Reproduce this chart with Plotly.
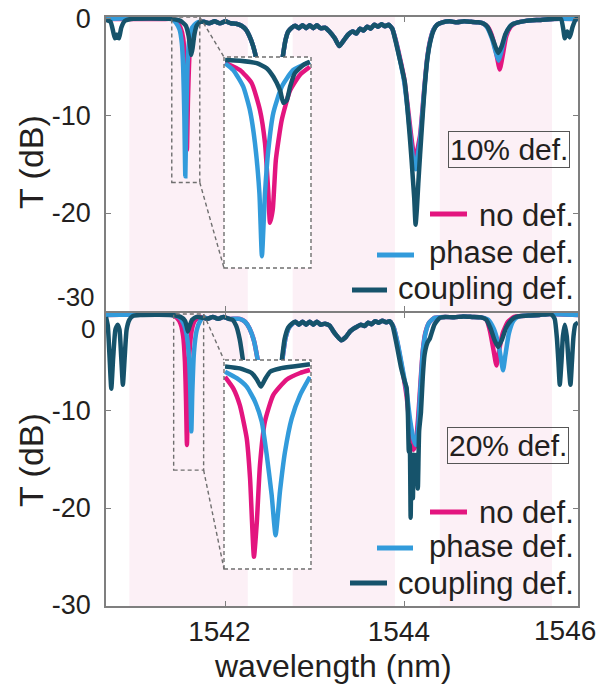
import plotly.graph_objects as go

W, H = 611, 690
FONT = "Liberation Sans, Arial, sans-serif"
TXT = "#231f20"
AX = "#7f7f7f"
C_NO = "#e3157f"
C_PH = "#329bdb"
C_CP = "#16536b"
BAND = "#fcf0f6"

# ---------------- data (wavelength nm, T dB) ----------------
wl_range = [1540.67, 1545.93]
top_T_range = [-30.1, 0.2]
bot_T_range = [-30.1, 0.1]
x_tick_vals = [1542, 1544]
y_tick_vals = [-30, -20, -10, 0]
bands = [(1540.93, 1542.25), (1542.75, 1543.89), (1544.39, 1545.64)]
labels = ["no def.", "phase def.", "coupling def."]
panel_labels = ["10% def.", "20% def."]

# ---- 10% defect panel ----
top_wig_a = [(1541.76, -0.3), (1541.82, -0.45), (1541.88, -0.25), (1541.94, -0.45), (1542.00, -0.25), (1542.06, -0.45)]
top_hidden = [(1542.12, -0.5), (1542.18, -0.7), (1542.23, -1.1), (1542.27, -1.8), (1542.31, -2.8), (1542.34, -3.9),
              (1542.38, -6.5), (1542.46, -9.5), (1542.54, -9.5), (1542.61, -6.0), (1542.64, -3.9), (1542.67, -2.2),
              (1542.70, -1.3), (1542.74, -0.9)]
top_wig_b = [(1542.78, -0.7), (1542.82, -0.95), (1542.86, -0.65), (1542.90, -0.95), (1542.94, -0.65), (1542.98, -0.95),
             (1543.02, -0.65), (1543.06, -0.95), (1543.11, -0.9), (1543.16, -1.3), (1543.22, -2.0), (1543.27, -2.8),
             (1543.32, -2.2), (1543.37, -1.6), (1543.42, -1.3), (1543.46, -1.5), (1543.50, -1.0), (1543.54, -1.2),
             (1543.58, -0.8), (1543.62, -1.0), (1543.66, -0.6), (1543.70, -0.8), (1543.74, -0.55), (1543.78, -0.75),
             (1543.82, -0.6), (1543.86, -1.0)]
top_after = [(1544.42, -0.35), (1544.50, -0.25), (1544.58, -0.35), (1544.66, -0.25), (1544.74, -0.3), (1544.82, -0.35),
             (1544.88, -0.5)]
top_tail = [(1545.26, -0.35), (1545.35, -0.2), (1545.50, -0.1), (1545.65, 0.0)]

top_no_left = [(1540.67, 0.0), (1541.30, 0.0), (1541.40, 0.0), (1541.46, -0.3), (1541.50, -0.9), (1541.53, -2.0),
               (1541.55, -4.5), (1541.562, -8.5), (1541.572, -13.5), (1541.583, -8.5), (1541.60, -3.8),
               (1541.625, -1.7), (1541.66, -0.7), (1541.72, -0.3)]
top_no_big = [(1543.90, -2.2), (1543.95, -4.2), (1543.99, -6.0), (1544.03, -8.8), (1544.07, -12.0), (1544.10, -14.0),
              (1544.12, -14.7), (1544.14, -13.5), (1544.17, -12.0), (1544.195, -9.5), (1544.22, -6.8),
              (1544.25, -4.0), (1544.28, -2.3), (1544.32, -1.1), (1544.36, -0.6)]
top_no_d2 = [(1544.93, -0.9), (1544.98, -2.0), (1545.02, -3.6), (1545.058, -5.2), (1545.09, -3.8), (1545.13, -1.8),
             (1545.18, -0.8), (1545.22, -0.5)]
top_no_right = [(1545.93, 0.0)]

top_ph_left = [(1540.67, 0.0), (1541.40, 0.0), (1541.45, -0.4), (1541.49, -1.1), (1541.515, -2.5), (1541.53, -5.0),
               (1541.543, -10.0), (1541.554, -16.2), (1541.565, -10.0), (1541.58, -4.5), (1541.60, -2.0),
               (1541.63, -0.9), (1541.68, -0.4), (1541.72, -0.3)]
top_ph_big = [(1543.90, -2.3), (1543.95, -4.4), (1543.99, -6.3), (1544.03, -9.2), (1544.07, -12.8), (1544.10, -14.8),
              (1544.12, -15.5), (1544.14, -14.3), (1544.17, -12.5), (1544.195, -9.8), (1544.22, -7.0),
              (1544.25, -4.1), (1544.28, -2.4), (1544.32, -1.1), (1544.36, -0.6)]
top_ph_d2 = [(1544.92, -0.9), (1544.97, -2.0), (1545.01, -3.3), (1545.045, -4.3), (1545.08, -3.2), (1545.12, -1.7),
             (1545.17, -0.8), (1545.21, -0.5)]
top_ph_right = [(1545.93, 0.0)]

top_cp_left = [(1540.67, -0.1), (1540.72, -0.3), (1540.75, -1.3), (1540.77, -2.0), (1540.79, -1.6), (1540.815, -2.0),
               (1540.84, -0.9), (1540.88, -0.2), (1540.95, 0.0), (1541.40, 0.0), (1541.50, -0.2), (1541.56, -0.7),
               (1541.59, -1.7), (1541.61, -3.0), (1541.621, -3.7), (1541.635, -3.0), (1541.655, -1.6),
               (1541.68, -0.7), (1541.72, -0.3)]
top_cp_big = [(1543.90, -2.4), (1543.94, -4.0), (1543.97, -5.2), (1544.00, -6.5), (1544.02, -8.3), (1544.05, -11.5),
              (1544.075, -14.5), (1544.09, -16.5), (1544.105, -18.5), (1544.12, -21.2), (1544.135, -19.5),
              (1544.15, -17.0), (1544.17, -14.0), (1544.195, -10.5), (1544.22, -7.2), (1544.25, -4.2),
              (1544.28, -2.5), (1544.32, -1.2), (1544.36, -0.6)]
top_cp_d2 = [(1544.92, -0.8), (1544.96, -1.6), (1545.00, -2.6), (1545.04, -3.5), (1545.08, -2.8), (1545.12, -1.6),
             (1545.17, -0.8), (1545.21, -0.5)]
top_cp_right = [(1545.74, 0.0), (1545.765, -1.0), (1545.783, -2.0), (1545.81, -1.3), (1545.838, -1.9),
                (1545.87, -0.8), (1545.91, 0.0), (1545.93, 0.0)]

# ---- 20% defect panel ----
bot_wig_a = [(1541.80, -0.5), (1541.86, -0.3), (1541.92, -0.5), (1541.98, -0.3), (1542.04, -0.5)]
bot_hidden_cp = [(1542.08, -0.6), (1542.12, -1.2), (1542.16, -2.6), (1542.195, -4.7), (1542.24, -8.0), (1542.40, -10.0),
                 (1542.55, -9.0), (1542.60, -6.5), (1542.63, -4.7), (1542.66, -2.6), (1542.70, -1.4), (1542.74, -1.0)]
bot_hidden_nph = [(1542.10, -0.5), (1542.16, -0.5), (1542.22, -0.8), (1542.27, -1.5), (1542.32, -2.8), (1542.36, -4.7),
                  (1542.42, -8.0), (1542.52, -9.0), (1542.60, -6.5), (1542.635, -4.7), (1542.67, -2.5),
                  (1542.71, -1.4), (1542.75, -1.0)]
bot_wig_b = [(1542.78, -0.8), (1542.82, -1.1), (1542.86, -0.8), (1542.90, -1.1), (1542.94, -0.8), (1542.98, -1.1),
             (1543.02, -0.8), (1543.06, -1.1), (1543.11, -1.0), (1543.16, -1.2), (1543.22, -2.0), (1543.29, -2.7),
             (1543.34, -2.4), (1543.39, -1.8), (1543.43, -1.5), (1543.47, -1.3), (1543.51, -1.1), (1543.55, -1.25),
             (1543.59, -0.9), (1543.63, -1.05), (1543.67, -0.75), (1543.71, -0.9), (1543.75, -0.7), (1543.79, -0.85),
             (1543.83, -0.75), (1543.86, -1.1)]
bot_after = [(1544.45, -0.3), (1544.55, -0.35), (1544.65, -0.25), (1544.75, -0.3), (1544.85, -0.35)]
bot_tail = [(1545.30, -0.2), (1545.40, -0.15), (1545.50, -0.1), (1545.62, 0.0)]

bot_no_left = [(1540.67, -0.1), (1541.40, -0.1), (1541.46, -0.4), (1541.50, -1.0), (1541.53, -2.3), (1541.55, -5.0),
               (1541.562, -9.0), (1541.572, -13.5), (1541.582, -9.0), (1541.60, -4.0), (1541.625, -1.7),
               (1541.66, -0.7), (1541.72, -0.3)]
bot_no_big = [(1543.88, -1.5), (1543.92, -3.1), (1543.97, -5.6), (1544.02, -8.5), (1544.06, -12.0), (1544.095, -14.0),
              (1544.12, -13.5), (1544.15, -10.5), (1544.175, -7.0), (1544.20, -3.8), (1544.23, -1.9),
              (1544.27, -0.9), (1544.33, -0.4)]
bot_no_d2 = [(1544.91, -0.6), (1544.95, -1.8), (1544.99, -3.8), (1545.021, -5.3), (1545.05, -3.8), (1545.09, -2.0),
             (1545.15, -0.8), (1545.22, -0.3)]
bot_no_right = [(1545.93, -0.1)]

bot_ph_left = [(1540.67, -0.1), (1541.40, -0.1), (1541.48, -0.3), (1541.53, -0.9), (1541.57, -2.2), (1541.595, -4.5),
               (1541.61, -8.0), (1541.621, -12.1), (1541.632, -8.0), (1541.65, -4.0), (1541.68, -1.7),
               (1541.72, -0.7), (1541.76, -0.3)]
bot_ph_big = [(1543.88, -1.5), (1543.92, -3.0), (1543.97, -5.4), (1544.02, -8.0), (1544.06, -11.0), (1544.10, -13.0),
              (1544.125, -13.5), (1544.15, -11.5), (1544.175, -7.5), (1544.20, -4.0), (1544.23, -2.0),
              (1544.27, -0.9), (1544.33, -0.4)]
bot_ph_d2 = [(1544.93, -0.6), (1544.99, -1.5), (1545.04, -3.0), (1545.07, -4.5), (1545.095, -5.8), (1545.12, -4.3),
             (1545.16, -2.0), (1545.21, -0.7), (1545.26, -0.3)]
bot_ph_right = [(1545.93, -0.1)]

bot_cp_left = [(1540.67, -0.3), (1540.69, -1.2), (1540.71, -4.5), (1540.729, -7.7), (1540.75, -4.5), (1540.775, -1.6),
               (1540.80, -1.1), (1540.82, -1.6), (1540.84, -4.5), (1540.858, -7.3), (1540.878, -4.5),
               (1540.90, -1.6), (1540.93, -0.6), (1540.97, -0.2), (1541.05, -0.1), (1541.40, -0.1), (1541.50, -0.3),
               (1541.55, -0.7), (1541.57, -1.3), (1541.583, -1.8), (1541.60, -1.3), (1541.63, -0.6), (1541.68, -0.3)]
bot_cp_big = [(1543.91, -3.2), (1543.96, -5.6), (1544.00, -7.0), (1544.02, -7.6), (1544.035, -10.5), (1544.045, -14.2),
              (1544.055, -13.5), (1544.065, -21.0), (1544.075, -14.5), (1544.09, -19.0), (1544.10, -14.5),
              (1544.115, -15.5), (1544.13, -14.5), (1544.145, -18.0), (1544.16, -12.0), (1544.18, -10.1),
              (1544.20, -6.5), (1544.22, -4.2), (1544.25, -3.0), (1544.28, -2.5), (1544.33, -1.1), (1544.39, -0.4)]
bot_cp_d2 = [(1544.91, -0.6), (1544.96, -1.6), (1545.00, -2.7), (1545.04, -3.4), (1545.08, -2.7), (1545.13, -1.4),
             (1545.19, -0.6), (1545.24, -0.3)]
bot_cp_right = [(1545.64, -0.1), (1545.67, -0.5), (1545.695, -2.5), (1545.712, -5.0), (1545.727, -7.3),
                (1545.745, -5.0), (1545.762, -2.3), (1545.783, -1.1), (1545.805, -2.3), (1545.825, -5.0),
                (1545.846, -7.3), (1545.862, -5.0), (1545.88, -2.3), (1545.90, -1.1), (1545.93, -0.9)]

# ---- insets (zoomed views) ----
top_inset_x = [1541.403, 1541.715]
top_inset_T = [-16.85, 0.2]
bot_inset_x = [1541.424, 1541.758]
bot_inset_T = [-16.1, 0.0]

ti_no = [(1541.407, -0.26), (1541.460, -0.85), (1541.502, -1.9), (1541.532, -4.1), (1541.550, -6.75), (1541.562, -10.8),
         (1541.568, -13.2), (1541.578, -12.1), (1541.589, -8.1), (1541.610, -4.9), (1541.640, -2.5),
         (1541.675, -1.25), (1541.711, -0.6)]
ti_ph = [(1541.407, -0.3), (1541.436, -0.85), (1541.472, -2.2), (1541.496, -4.1), (1541.514, -6.75), (1541.530, -10.8),
         (1541.539, -15.9), (1541.550, -10.8), (1541.562, -7.3), (1541.580, -4.3), (1541.610, -2.2),
         (1541.651, -0.85), (1541.711, -0.2)]
ti_cp = [(1541.407, -0.04), (1541.460, -0.1), (1541.520, -0.3), (1541.556, -0.7), (1541.580, -1.4), (1541.604, -2.5),
         (1541.616, -3.5), (1541.628, -3.3), (1541.640, -2.2), (1541.657, -1.1), (1541.687, -0.45), (1541.711, -0.2)]

bi_no = [(1541.428, -1.3), (1541.460, -2.2), (1541.485, -3.5), (1541.511, -6.0), (1541.524, -9.1), (1541.539, -15.15),
         (1541.550, -12.5), (1541.562, -8.1), (1541.581, -4.75), (1541.613, -2.7), (1541.665, -1.5),
         (1541.716, -1.0), (1541.754, -0.77)]
bi_ph = [(1541.428, -0.9), (1541.473, -1.4), (1541.511, -2.05), (1541.543, -3.2), (1541.569, -4.75), (1541.588, -7.3),
         (1541.607, -10.4), (1541.622, -13.5), (1541.639, -10.1), (1541.658, -7.1), (1541.684, -4.5),
         (1541.716, -2.7), (1541.754, -1.3)]
bi_cp = [(1541.428, -0.5), (1541.485, -0.65), (1541.530, -1.0), (1541.550, -1.5), (1541.566, -2.05), (1541.581, -1.5),
         (1541.601, -0.9), (1541.639, -0.65), (1541.690, -0.5), (1541.754, -0.33)]

# assembled series
top_no = top_no_left + top_wig_a + top_hidden + top_wig_b + top_no_big + top_after + top_no_d2 + top_tail + top_no_right
top_ph = top_ph_left + top_wig_a + top_hidden + top_wig_b + top_ph_big + top_after + top_ph_d2 + top_tail + top_ph_right
top_cp = top_cp_left + top_wig_a + top_hidden + top_wig_b + top_cp_big + top_after + top_cp_d2 + top_tail + top_cp_right
bot_no = bot_no_left + bot_wig_a + bot_hidden_nph + bot_wig_b + bot_no_big + bot_after + bot_no_d2 + bot_tail + bot_no_right
bot_ph = bot_ph_left + bot_wig_a + bot_hidden_nph + bot_wig_b + bot_ph_big + bot_after + bot_ph_d2 + bot_tail + bot_ph_right
bot_cp = bot_cp_left + bot_wig_a + bot_hidden_cp + bot_wig_b + bot_cp_big + bot_after + bot_cp_d2 + bot_tail + bot_cp_right

# ---------------- layout geometry (pixels of a 611x690 canvas) ----------------
def px(x):
    return x / W

def py(y):
    return 1 - y / H

MAIN_X = [px(106), px(578)]
TOP_Y = [py(311), py(17)]
BOT_Y = [py(606), py(313)]
INSET_X = [px(224), px(311)]
TOP_INSET_Y = [py(268), py(57)]
BOT_INSET_Y = [py(569), py(360)]

fig = go.Figure()
colors = [C_NO, C_PH, C_CP]

def add(series, xa, ya, color, width=4.5):
    fig.add_trace(go.Scatter(x=[p[0] for p in series], y=[p[1] for p in series], mode="lines",
                             line=dict(color=color, width=width, shape="spline", smoothing=0.5),
                             xaxis=xa, yaxis=ya, showlegend=False, hoverinfo="skip"))

for s, c in zip([bot_no, bot_ph, bot_cp], colors):
    add(s, "x", "y", c)
for s, c in zip([top_no, top_ph, top_cp], colors):
    add(s, "x2", "y2", c)
for s, c in zip([ti_no, ti_ph, ti_cp], colors):
    add(s, "x3", "y3", c)
for s, c in zip([bi_no, bi_ph, bi_cp], colors):
    add(s, "x4", "y4", c)

axis_common = dict(showgrid=False, zeroline=False, showline=True, linecolor=AX, linewidth=1.5,
                   mirror="ticks", ticks="inside", ticklen=5, tickcolor=AX, tickwidth=1.2, automargin=False)
hidden_axis = dict(showgrid=False, zeroline=False, showline=False, ticks="", showticklabels=False,
                   automargin=False)

fig.update_layout(
    template="none",
    width=W, height=H, margin=dict(l=0, r=0, t=0, b=0, pad=0, autoexpand=False),
    paper_bgcolor="white", plot_bgcolor="white", showlegend=False,
    font=dict(family=FONT, color=TXT),
    xaxis=dict(domain=MAIN_X, anchor="y", range=wl_range, tickvals=x_tick_vals,
               ticktext=[str(v) for v in x_tick_vals], tickfont=dict(size=28, color=TXT),
               ticklabelstandoff=0, ticklabelshift=-6, **axis_common),
    yaxis=dict(domain=BOT_Y, anchor="x", range=bot_T_range, tickvals=y_tick_vals,
               ticktext=[str(v) for v in y_tick_vals[:-1]] + [""], tickfont=dict(size=27, color=TXT),
               ticklabelstandoff=8, **axis_common),
    xaxis2=dict(domain=MAIN_X, anchor="y2", range=wl_range, tickvals=x_tick_vals,
                showticklabels=False, **axis_common),
    yaxis2=dict(domain=TOP_Y, anchor="x2", range=top_T_range, tickvals=y_tick_vals,
                ticktext=[""] + [str(v) for v in y_tick_vals[1:]], tickfont=dict(size=27, color=TXT),
                ticklabelstandoff=8, **axis_common),
    xaxis3=dict(domain=INSET_X, anchor="y3", range=top_inset_x, **hidden_axis),
    yaxis3=dict(domain=TOP_INSET_Y, anchor="x3", range=top_inset_T, **hidden_axis),
    xaxis4=dict(domain=INSET_X, anchor="y4", range=bot_inset_x, **hidden_axis),
    yaxis4=dict(domain=BOT_INSET_Y, anchor="x4", range=bot_inset_T, **hidden_axis),
)

shapes = []
for a, b in bands:
    for xr, yr in [("x", "y domain"), ("x2", "y2 domain")]:
        shapes.append(dict(type="rect", xref=xr, yref=yr, x0=a, x1=b, y0=0, y1=1,
                           fillcolor=BAND, line=dict(width=0), layer="below"))

DASH = dict(color="#6f6f6f", width=1.4, dash="4px,3px")

def main_to_paper(lam, T, ydom, yr):
    xp = MAIN_X[0] + (lam - wl_range[0]) / (wl_range[1] - wl_range[0]) * (MAIN_X[1] - MAIN_X[0])
    yp = ydom[0] + (T - yr[0]) / (yr[1] - yr[0]) * (ydom[1] - ydom[0])
    return xp, yp

for (ixr, iTr, xr, yr, ydom, Tr, idom) in [
        (top_inset_x, top_inset_T, "x2", "y2", TOP_Y, top_T_range, TOP_INSET_Y),
        (bot_inset_x, bot_inset_T, "x", "y", BOT_Y, bot_T_range, BOT_INSET_Y)]:
    shapes.append(dict(type="rect", xref=xr, yref=yr, x0=ixr[0], x1=ixr[1], y0=iTr[0], y1=iTr[1],
                       line=DASH, layer="above"))
    shapes.append(dict(type="rect", xref="paper", yref="paper", x0=INSET_X[0], x1=INSET_X[1],
                       y0=idom[0], y1=idom[1], line=DASH, layer="above"))
    xa, ya_top = main_to_paper(ixr[1], iTr[1], ydom, Tr)
    _, ya_bot = main_to_paper(ixr[1], iTr[0], ydom, Tr)
    shapes.append(dict(type="line", xref="paper", yref="paper", x0=xa, y0=ya_top, x1=INSET_X[0], y1=idom[1],
                       line=DASH, layer="above"))
    shapes.append(dict(type="line", xref="paper", yref="paper", x0=xa, y0=ya_bot, x1=INSET_X[0], y1=idom[0],
                       line=DASH, layer="above"))

legend_top = [(430, 467, 214), (377, 414, 255), (352, 387, 290)]
legend_bot = [(430, 467, 512), (377, 413, 548), (350, 387, 583)]
for rows in [legend_top, legend_bot]:
    for (x0, x1, yy), c in zip(rows, colors):
        shapes.append(dict(type="line", xref="paper", yref="paper", x0=px(x0), x1=px(x1), y0=py(yy), y1=py(yy),
                           line=dict(color=c, width=5), layer="above"))
fig.update_layout(shapes=shapes)

ann = []
def text(t, x, y, size, xanchor="center", yanchor="middle", **kw):
    ann.append(dict(text=t, x=px(x), y=py(y), xref="paper", yref="paper", showarrow=False,
                    xanchor=xanchor, yanchor=yanchor, font=dict(family=FONT, size=size, color=TXT), **kw))

legend_text_top = [215, 252, 288]
legend_text_bot = [512, 546, 583]
for ys in [legend_text_top, legend_text_bot]:
    for lab, yy in zip(labels, ys):
        text(lab, 576, yy, 31, xanchor="right")

text(panel_labels[0], 509, 150, 30, bordercolor="#555555", borderwidth=1, borderpad=1)
text(panel_labels[1], 508, 445, 30, bordercolor="#555555", borderwidth=1, borderpad=1)

text("-30", 97, 297, 26, xanchor="right")
text("0", 97, 329, 26, xanchor="right")
text("1546", 565, 630, 28)
text("wavelength (nm)", 333, 666, 32)
text("T (dB)", 31, 162, 34, textangle=-90)
text("T (dB)", 31, 460, 34, textangle=-90)
fig.update_layout(annotations=ann)

fig.write_html("out.html")
